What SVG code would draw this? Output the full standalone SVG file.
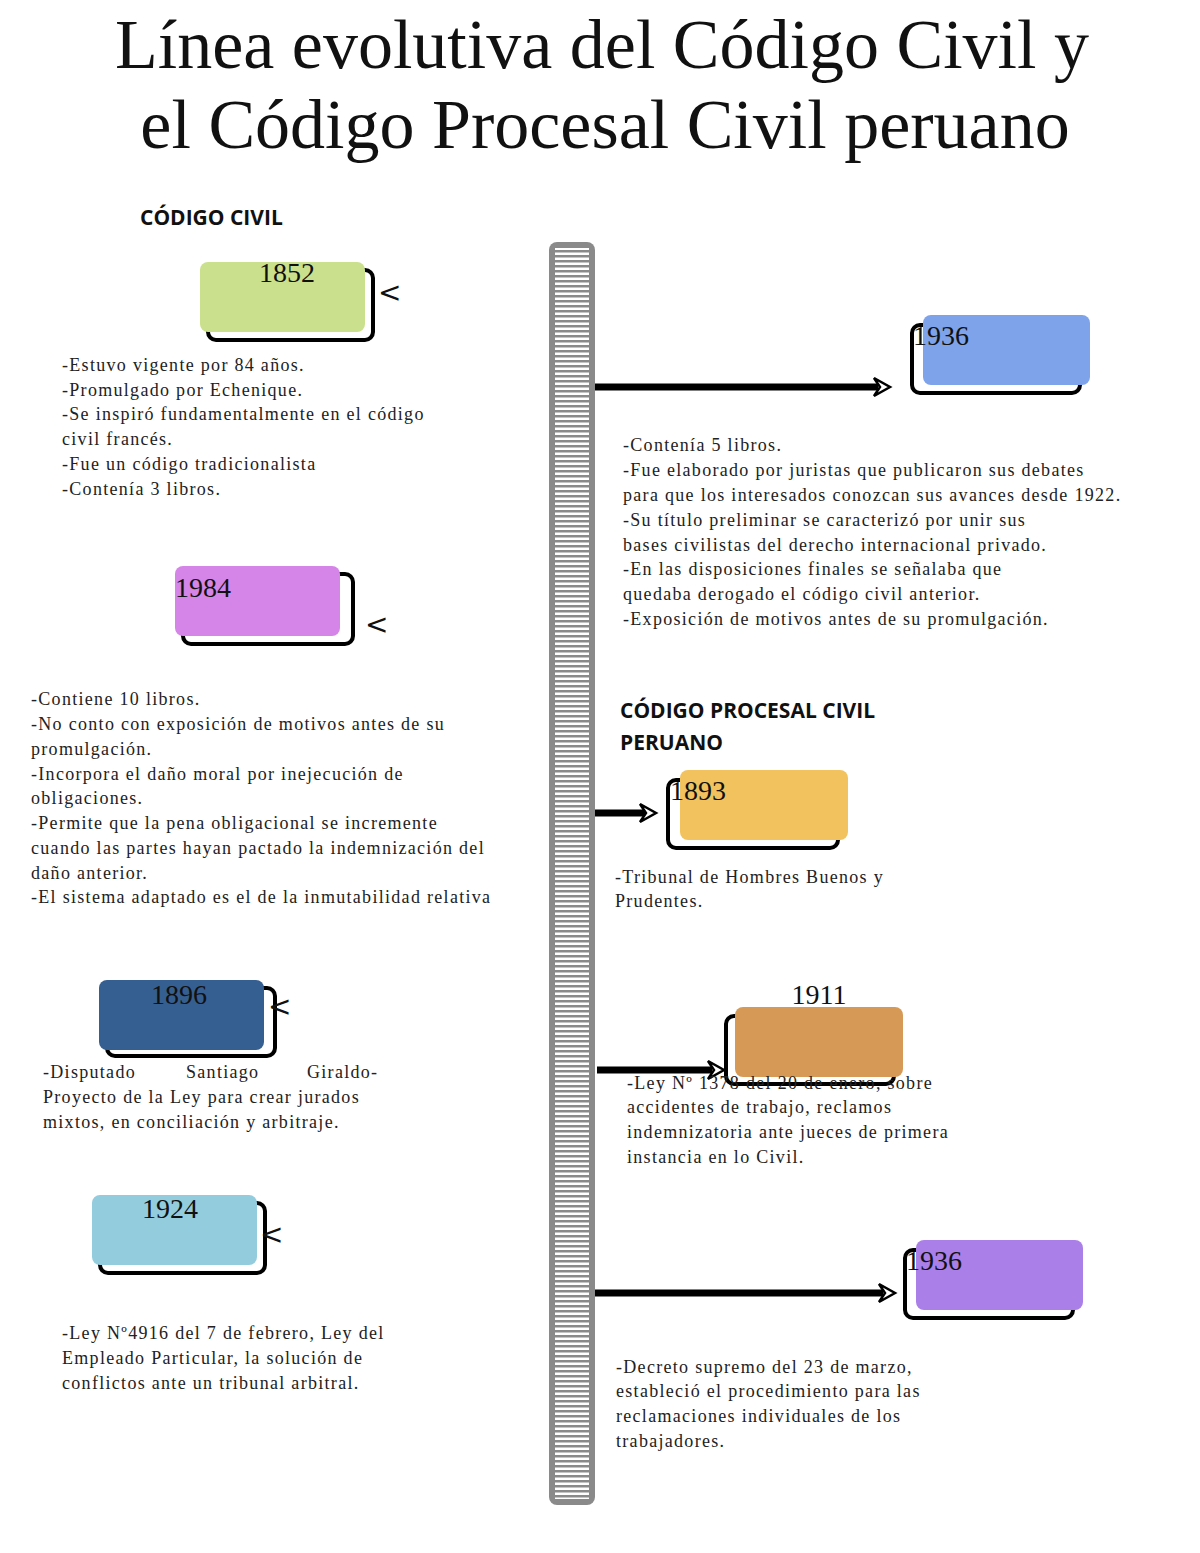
<svg xmlns="http://www.w3.org/2000/svg" width="1200" height="1553" viewBox="0 0 1200 1553">
<style>
.t{font-family:"Liberation Serif",serif;font-size:18px;fill:#222;letter-spacing:1.3px}
.y{font-family:"Liberation Serif",serif;font-size:28px;fill:#111}
.h{font-family:"Open Sans","Liberation Sans",sans-serif;font-size:21px;font-weight:bold;fill:#111}
.o{fill:none;stroke:#000;stroke-width:4}
.a{stroke:#000;stroke-width:7;fill:none}
.ah{stroke:#000;stroke-width:2.5;fill:#fff}
.lt{font-family:"DejaVu Sans",sans-serif;font-size:28px;fill:#111}
</style>
<defs>
<pattern id="st" width="10" height="5" patternUnits="userSpaceOnUse"><rect width="10" height="5" fill="#fff"/><rect width="10" height="2.5" fill="#8a8a8a"/></pattern>
</defs>
<rect width="1200" height="1553" fill="#fff"/>
<text x="602" y="68" text-anchor="middle" style="font-family:'Liberation Serif',serif;font-size:70px;fill:#111">Línea evolutiva del Código Civil y</text>
<text x="605" y="148" text-anchor="middle" style="font-family:'Liberation Serif',serif;font-size:70px;fill:#111">el Código Procesal Civil peruano</text>
<text class="h" x="140" y="225">CÓDIGO CIVIL</text>
<text class="h" x="620" y="718">CÓDIGO PROCESAL CIVIL</text>
<text class="h" x="620" y="750">PERUANO</text>
<g id="timeline"><rect x="549" y="242" width="46" height="1263" rx="8" fill="#8a8a8a"/><rect x="555" y="248" width="34" height="1251" fill="url(#st)"/></g>
<g id="connectors">
<line class="a" x1="595" y1="387" x2="878" y2="387"/><path class="ah" d="M874,378 L890,387 L874,396 L880,387Z"/>
<line class="a" x1="595" y1="813" x2="645" y2="813"/><path class="ah" d="M640,804 L656,813 L640,822 L646,813Z"/>
<line class="a" x1="597" y1="1070" x2="712" y2="1070"/><path class="ah" d="M708,1061 L724,1070 L708,1079 L714,1070Z"/>
<line class="a" x1="595" y1="1293" x2="883" y2="1293"/><path class="ah" d="M879,1284 L895,1293 L879,1302 L885,1293Z"/>
</g>
<g id="n1852"><rect class="o" x="208" y="270" width="165" height="70" rx="8"/><rect x="200" y="262" width="165" height="70" rx="8" fill="#cbe08c"/><text class="y" x="287" y="282" text-anchor="middle">1852</text><text class="lt" x="378" y="302">&lt;</text>
<text class="t" x="62" y="371">-Estuvo vigente por 84 años.</text><text class="t" x="62" y="396">-Promulgado por Echenique.</text><text class="t" x="62" y="420">-Se inspiró fundamentalmente en el código</text><text class="t" x="62" y="445">civil francés.</text><text class="t" x="62" y="470">-Fue un código tradicionalista</text><text class="t" x="62" y="495">-Contenía 3 libros.</text></g>
<g id="n1984"><rect class="o" x="183" y="574" width="170" height="70" rx="8"/><rect x="175" y="566" width="165" height="70" rx="8" fill="#d585e8"/><text class="y" x="175" y="597">1984</text><text class="lt" x="365" y="634">&lt;</text>
<text class="t" x="31" y="705">-Contiene 10 libros.</text><text class="t" x="31" y="730">-No conto con exposición de motivos antes de su</text><text class="t" x="31" y="755">promulgación.</text><text class="t" x="31" y="780">-Incorpora el daño moral por inejecución de</text><text class="t" x="31" y="804">obligaciones.</text><text class="t" x="31" y="829">-Permite que la pena obligacional se incremente</text><text class="t" x="31" y="854">cuando las partes hayan pactado la indemnización del</text><text class="t" x="31" y="879">daño anterior.</text><text class="t" x="31" y="903">-El sistema adaptado es el de la inmutabilidad relativa</text></g>
<g id="n1896"><rect class="o" x="107" y="988" width="168" height="68" rx="8"/><rect x="99" y="980" width="165" height="70" rx="8" fill="#365f91"/><text class="y" x="179" y="1004" text-anchor="middle">1896</text><text class="lt" x="268" y="1016">&lt;</text>
<text class="t" x="43" y="1078">-Disputado</text><text class="t" x="186" y="1078">Santiago</text><text class="t" x="307" y="1078">Giraldo-</text><text class="t" x="43" y="1103">Proyecto de la Ley para crear jurados</text><text class="t" x="43" y="1128">mixtos, en conciliación y arbitraje.</text></g>
<g id="n1924"><rect class="o" x="100" y="1203" width="165" height="70" rx="8"/><rect x="92" y="1195" width="165" height="70" rx="8" fill="#93cddd"/><text class="y" x="170" y="1218" text-anchor="middle">1924</text><text class="lt" x="260" y="1244">&lt;</text>
<text class="t" x="62" y="1339">-Ley Nº4916 del 7 de febrero, Ley del</text><text class="t" x="62" y="1364">Empleado Particular, la solución de</text><text class="t" x="62" y="1389">conflictos ante un tribunal arbitral.</text></g>
<g id="n1936a"><rect class="o" x="912" y="325" width="168" height="68" rx="8"/><rect x="923" y="315" width="167" height="70" rx="8" fill="#7ea3eb"/><text class="y" x="913" y="345">1936</text>
<text class="t" x="623" y="451">-Contenía 5 libros.</text><text class="t" x="623" y="476">-Fue elaborado por juristas que publicaron sus debates</text><text class="t" x="623" y="501">para que los interesados conozcan sus avances desde 1922.</text><text class="t" x="623" y="526">-Su título preliminar se caracterizó por unir sus</text><text class="t" x="623" y="551">bases civilistas del derecho internacional privado.</text><text class="t" x="623" y="575">-En las disposiciones finales se señalaba que</text><text class="t" x="623" y="600">quedaba derogado el código civil anterior.</text><text class="t" x="623" y="625">-Exposición de motivos antes de su promulgación.</text></g>
<g id="n1893"><rect class="o" x="668" y="780" width="170" height="68" rx="8"/><rect x="680" y="770" width="168" height="70" rx="8" fill="#f2c25e"/><text class="y" x="670" y="800">1893</text>
<text class="t" x="615" y="883">-Tribunal de Hombres Buenos y</text><text class="t" x="615" y="907">Prudentes.</text></g>
<g id="n1911"><rect class="o" x="726" y="1016" width="168" height="68" rx="8"/><rect x="735" y="1007" width="168" height="70" rx="8" fill="#d79a56"/><text class="y" x="819" y="1004" text-anchor="middle">1911</text>
<text class="t" x="627" y="1089">-Ley Nº 1378 del 20 de enero, sobre</text><text class="t" x="627" y="1113">accidentes de trabajo, reclamos</text><text class="t" x="627" y="1138">indemnizatoria ante jueces de primera</text><text class="t" x="627" y="1163">instancia en lo Civil.</text></g>
<g id="n1936b"><rect class="o" x="905" y="1250" width="168" height="68" rx="8"/><rect x="916" y="1240" width="167" height="70" rx="8" fill="#ab7fe8"/><text class="y" x="906" y="1270">1936</text>
<text class="t" x="616" y="1373">-Decreto supremo del 23 de marzo,</text><text class="t" x="616" y="1397">estableció el procedimiento para las</text><text class="t" x="616" y="1422">reclamaciones individuales de los</text><text class="t" x="616" y="1447">trabajadores.</text></g>
</svg>
